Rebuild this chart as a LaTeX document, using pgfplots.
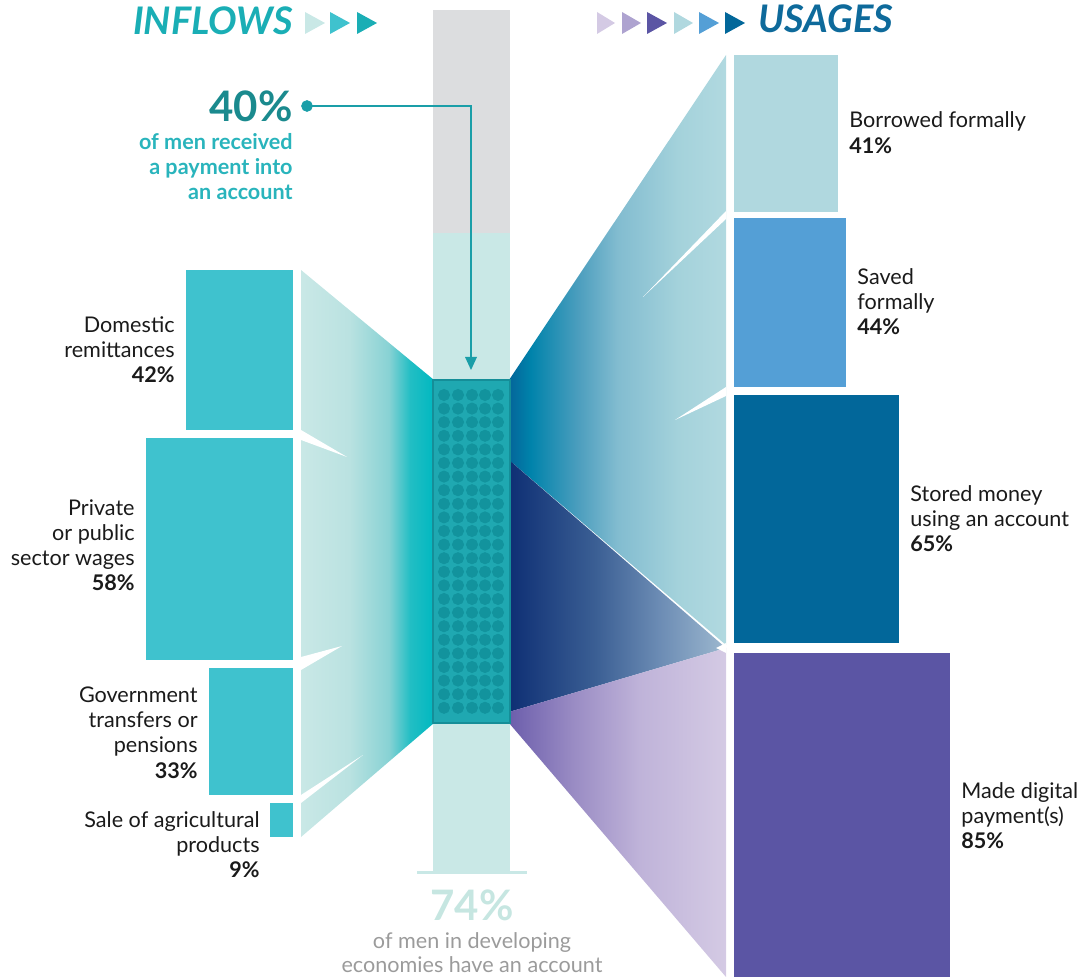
\documentclass[border=0pt]{standalone}
\usepackage{pgfplots}
\pgfplotsset{compat=1.18}
\usepackage{fontspec}
\setmainfont{Lato}
\definecolor{txt}{HTML}{1A1A1A}
\definecolor{inbar}{HTML}{3FC2CE}
\definecolor{borrow}{HTML}{B0D8DF}
\definecolor{saved}{HTML}{549FD6}
\definecolor{stored}{HTML}{02679A}
\definecolor{digital}{HTML}{5B55A4}
\definecolor{colgray}{HTML}{DCDDDF}
\definecolor{colpale}{HTML}{C9E8E6}
\definecolor{boxfill}{HTML}{1FA8B1}
\definecolor{boxedge}{HTML}{158E98}
\definecolor{dotc}{HTML}{12939D}
\definecolor{arrowc}{HTML}{1A9EA8}
\definecolor{inflc}{HTML}{1AAEB5}
\definecolor{usagec}{HTML}{0E6A9B}
\definecolor{bigteal}{HTML}{1A8A8E}
\definecolor{midteal}{HTML}{29B4BC}
\definecolor{pale74}{HTML}{C6E6E1}
\definecolor{graytxt}{HTML}{9B9B9B}
% shading colours
\definecolor{lf0}{HTML}{C9E8E6}\definecolor{lf1}{HTML}{BAE2E1}\definecolor{lf2}{HTML}{88D2D4}
\definecolor{lf3}{HTML}{22BEC4}\definecolor{lf4}{HTML}{00B8C0}
\definecolor{rf0}{HTML}{04659A}\definecolor{rf1}{HTML}{0083AB}\definecolor{rf2}{HTML}{4C9EBE}
\definecolor{rf3}{HTML}{82BCD0}\definecolor{rf4}{HTML}{A4D2DB}\definecolor{rf5}{HTML}{B1D9E0}
\definecolor{nv0}{HTML}{0E2F74}\definecolor{nv1}{HTML}{3B5F94}\definecolor{nv2}{HTML}{6D8DB5}\definecolor{nv3}{HTML}{9DB8CF}
\definecolor{pu0}{HTML}{6C5EAC}\definecolor{pu1}{HTML}{9A8CC4}\definecolor{pu2}{HTML}{BFB3D9}\definecolor{pu3}{HTML}{D4CAE4}
\pgfdeclarehorizontalshading{leftfan}{100bp}{color(0bp)=(lf0); color(25bp)=(lf0); color(43bp)=(lf1); color(58bp)=(lf2); color(66bp)=(lf3); color(75bp)=(lf4); color(100bp)=(lf4)}
\pgfdeclarehorizontalshading{rightfan}{100bp}{color(0bp)=(rf0); color(25bp)=(rf0); color(30bp)=(rf1); color(41bp)=(rf2); color(50bp)=(rf3); color(64bp)=(rf4); color(75bp)=(rf5); color(100bp)=(rf5)}
\pgfdeclarehorizontalshading{navyfan}{100bp}{color(0bp)=(nv0); color(25bp)=(nv0); color(45bp)=(nv1); color(60bp)=(nv2); color(75bp)=(nv3); color(100bp)=(nv3)}
\pgfdeclarehorizontalshading{purplefan}{100bp}{color(0bp)=(pu0); color(25bp)=(pu0); color(40bp)=(pu1); color(55bp)=(pu2); color(75bp)=(pu3); color(100bp)=(pu3)}
\newcommand{\lbl}{\fontsize{10.8}{12}\selectfont}
\begin{document}
\begin{tikzpicture}
\begin{axis}[width=543pt, height=488.5pt, scale only axis,
  xmin=0, xmax=1086, ymin=0, ymax=977, y dir=reverse, hide axis, clip=false]
% bounding frame
\addplot[draw=none] coordinates {(0,0) (1086,977)};
% central column
\addplot[fill=colgray, draw=none] coordinates {(433,10) (510,10) (510,233) (433,233)} -- cycle;
\addplot[fill=colpale, draw=none] coordinates {(433,233) (510,233) (510,872) (433,872)} -- cycle;
\addplot[draw=colpale, line width=1.5pt] coordinates {(417,872) (527,872)};
% left fan
\addplot[draw=none, shade, shading=leftfan] coordinates {(301,270) (434,380) (434,723) (301,837)} -- cycle;
\addplot[fill=white, draw=none] coordinates {(301,430) (301,440) (347,457)} -- cycle;
\addplot[fill=white, draw=none] coordinates {(301,657) (301,670) (342,646)} -- cycle;
\addplot[fill=white, draw=none] coordinates {(301,795) (301,803) (363,755)} -- cycle;
% right fans
\addplot[draw=none, shade, shading=rightfan] coordinates {(509,380) (726,55) (726,645) (509,460)} -- cycle;
\addplot[draw=none, shade, shading=navyfan] coordinates {(509,460) (726,648) (509,712)} -- cycle;
\addplot[draw=none, shade, shading=purplefan] coordinates {(509,712) (726,648) (726,977) (509,723)} -- cycle;
\addplot[fill=white, draw=none] coordinates {(726,211) (726,219) (643,297)} -- cycle;
\addplot[fill=white, draw=none] coordinates {(726,387) (726,396) (675,420)} -- cycle;
\addplot[fill=white, draw=none] coordinates {(726,643) (726,653) (716,648)} -- cycle;
% account box with dots
\addplot[fill=boxfill, draw=boxedge, line width=1pt] coordinates {(433,380) (510,380) (510,723) (433,723)} -- cycle;
\addplot[only marks, mark=*, mark size=2.8pt, color=dotc] coordinates {
(444,395) (458,395) (472,395) (485,395) (498,395)
(444,408.6) (458,408.6) (472,408.6) (485,408.6) (498,408.6)
(444,422.2) (458,422.2) (472,422.2) (485,422.2) (498,422.2)
(444,435.8) (458,435.8) (472,435.8) (485,435.8) (498,435.8)
(444,449.4) (458,449.4) (472,449.4) (485,449.4) (498,449.4)
(444,463) (458,463) (472,463) (485,463) (498,463)
(444,476.6) (458,476.6) (472,476.6) (485,476.6) (498,476.6)
(444,490.2) (458,490.2) (472,490.2) (485,490.2) (498,490.2)
(444,503.8) (458,503.8) (472,503.8) (485,503.8) (498,503.8)
(444,517.4) (458,517.4) (472,517.4) (485,517.4) (498,517.4)
(444,531) (458,531) (472,531) (485,531) (498,531)
(444,544.6) (458,544.6) (472,544.6) (485,544.6) (498,544.6)
(444,558.2) (458,558.2) (472,558.2) (485,558.2) (498,558.2)
(444,571.8) (458,571.8) (472,571.8) (485,571.8) (498,571.8)
(444,585.4) (458,585.4) (472,585.4) (485,585.4) (498,585.4)
(444,599) (458,599) (472,599) (485,599) (498,599)
(444,612.6) (458,612.6) (472,612.6) (485,612.6) (498,612.6)
(444,626.2) (458,626.2) (472,626.2) (485,626.2) (498,626.2)
(444,639.8) (458,639.8) (472,639.8) (485,639.8) (498,639.8)
(444,653.4) (458,653.4) (472,653.4) (485,653.4) (498,653.4)
(444,667) (458,667) (472,667) (485,667) (498,667)
(444,680.6) (458,680.6) (472,680.6) (485,680.6) (498,680.6)
(444,694.2) (458,694.2) (472,694.2) (485,694.2) (498,694.2)
(444,707.8) (458,707.8) (472,707.8) (485,707.8) (498,707.8)
};
% inflow bars (width and height proportional to share)
\addplot[fill=inbar, draw=none] coordinates {(186,270) (293,270) (293,430) (186,430)} -- cycle;
\addplot[fill=inbar, draw=none] coordinates {(146,438) (293,438) (293,660) (146,660)} -- cycle;
\addplot[fill=inbar, draw=none] coordinates {(209,668) (293,668) (293,795) (209,795)} -- cycle;
\addplot[fill=inbar, draw=none] coordinates {(270,803) (293,803) (293,837) (270,837)} -- cycle;
% usage bars
\addplot[fill=borrow, draw=none] coordinates {(734,55) (838,55) (838,212) (734,212)} -- cycle;
\addplot[fill=saved, draw=none] coordinates {(734,218) (846,218) (846,387) (734,387)} -- cycle;
\addplot[fill=stored, draw=none] coordinates {(734,395) (899,395) (899,643) (734,643)} -- cycle;
\addplot[fill=digital, draw=none] coordinates {(734,653) (950,653) (950,977) (734,977)} -- cycle;
% arrow
\addplot[draw=arrowc, line width=1.3pt] coordinates {(307,106) (471,106) (471,358)};
\addplot[fill=arrowc, draw=none] coordinates {(465,357) (477,357) (471,370)} -- cycle;
\addplot[only marks, mark=*, mark size=2.7pt, color=arrowc] coordinates {(307,106)};
% header triangles
\addplot[fill=lf0, draw=none] coordinates {(305,12) (325,23) (305,34)} -- cycle;
\addplot[fill=inbar, draw=none] coordinates {(330,12) (350,23) (330,34)} -- cycle;
\addplot[fill=inflc, draw=none] coordinates {(357,12) (377,23) (357,34)} -- cycle;
\addplot[fill=pu3, draw=none] coordinates {(597,12) (615,23) (597,34)} -- cycle;
\addplot[fill=pu1!80!white, draw=none] coordinates {(622,12) (641,23) (622,34)} -- cycle;
\addplot[fill=digital, draw=none] coordinates {(647,12) (667,23) (647,34)} -- cycle;
\addplot[fill=borrow, draw=none] coordinates {(674,12) (693,23) (674,34)} -- cycle;
\addplot[fill=saved, draw=none] coordinates {(699,12) (719,23) (699,34)} -- cycle;
\addplot[fill=stored, draw=none] coordinates {(725,12) (745,23) (725,34)} -- cycle;
% headers
\node[anchor=base east, inner sep=0pt, font=\fontsize{19}{20}\selectfont\bfseries\itshape, color=inflc] at (axis cs:293,35) {INFLOWS};
\node[anchor=base west, inner sep=0pt, font=\fontsize{19}{20}\selectfont\bfseries\itshape, color=usagec] at (axis cs:758,33) {USAGES};
% 40% annotation
\node[anchor=base east, inner sep=0pt, font=\fontsize{21}{22}\selectfont\bfseries, color=bigteal] at (axis cs:293,122) {40\%};
\node[anchor=base east, inner sep=0pt, font=\lbl\bfseries, color=midteal] at (axis cs:293,150) {of men received};
\node[anchor=base east, inner sep=0pt, font=\lbl\bfseries, color=midteal] at (axis cs:293,175) {a payment into};
\node[anchor=base east, inner sep=0pt, font=\lbl\bfseries, color=midteal] at (axis cs:293,200) {an account};
% 74% annotation
\node[anchor=base, inner sep=0pt, font=\fontsize{21}{22}\selectfont\bfseries, color=pale74] at (axis cs:472,920) {74\%};
\node[anchor=base, inner sep=0pt, font=\lbl, color=graytxt] at (axis cs:472,948) {of men in developing};
\node[anchor=base, inner sep=0pt, font=\lbl, color=graytxt] at (axis cs:472,972) {economies have an account};
% inflow labels
\node[anchor=base east, inner sep=0pt, font=\lbl, color=txt] at (axis cs:175,333) {Domestic};
\node[anchor=base east, inner sep=0pt, font=\lbl, color=txt] at (axis cs:175,358) {remittances};
\node[anchor=base east, inner sep=0pt, font=\lbl\bfseries, color=txt] at (axis cs:175,383) {42\%};
\node[anchor=base east, inner sep=0pt, font=\lbl, color=txt] at (axis cs:135,516) {Private};
\node[anchor=base east, inner sep=0pt, font=\lbl, color=txt] at (axis cs:135,541) {or public};
\node[anchor=base east, inner sep=0pt, font=\lbl, color=txt] at (axis cs:135,566) {sector wages};
\node[anchor=base east, inner sep=0pt, font=\lbl\bfseries, color=txt] at (axis cs:135,591) {58\%};
\node[anchor=base east, inner sep=0pt, font=\lbl, color=txt] at (axis cs:198,702) {Government};
\node[anchor=base east, inner sep=0pt, font=\lbl, color=txt] at (axis cs:198,727) {transfers or};
\node[anchor=base east, inner sep=0pt, font=\lbl, color=txt] at (axis cs:198,752) {pensions};
\node[anchor=base east, inner sep=0pt, font=\lbl\bfseries, color=txt] at (axis cs:198,778) {33\%};
\node[anchor=base east, inner sep=0pt, font=\lbl, color=txt] at (axis cs:260,827) {Sale of agricultural};
\node[anchor=base east, inner sep=0pt, font=\lbl, color=txt] at (axis cs:260,852) {products};
\node[anchor=base east, inner sep=0pt, font=\lbl\bfseries, color=txt] at (axis cs:260,877) {9\%};
% usage labels
\node[anchor=base west, inner sep=0pt, font=\lbl, color=txt] at (axis cs:849,128) {Borrowed formally};
\node[anchor=base west, inner sep=0pt, font=\lbl\bfseries, color=txt] at (axis cs:849,154) {41\%};
\node[anchor=base west, inner sep=0pt, font=\lbl, color=txt] at (axis cs:857,285) {Saved};
\node[anchor=base west, inner sep=0pt, font=\lbl, color=txt] at (axis cs:857,310) {formally};
\node[anchor=base west, inner sep=0pt, font=\lbl\bfseries, color=txt] at (axis cs:857,335) {44\%};
\node[anchor=base west, inner sep=0pt, font=\lbl, color=txt] at (axis cs:910,502) {Stored money};
\node[anchor=base west, inner sep=0pt, font=\lbl, color=txt] at (axis cs:910,527) {using an account};
\node[anchor=base west, inner sep=0pt, font=\lbl\bfseries, color=txt] at (axis cs:910,552) {65\%};
\node[anchor=base west, inner sep=0pt, font=\lbl, color=txt] at (axis cs:961,798) {Made digital};
\node[anchor=base west, inner sep=0pt, font=\lbl, color=txt] at (axis cs:961,823) {payment(s)};
\node[anchor=base west, inner sep=0pt, font=\lbl\bfseries, color=txt] at (axis cs:961,848) {85\%};
\end{axis}
\end{tikzpicture}
\end{document}
